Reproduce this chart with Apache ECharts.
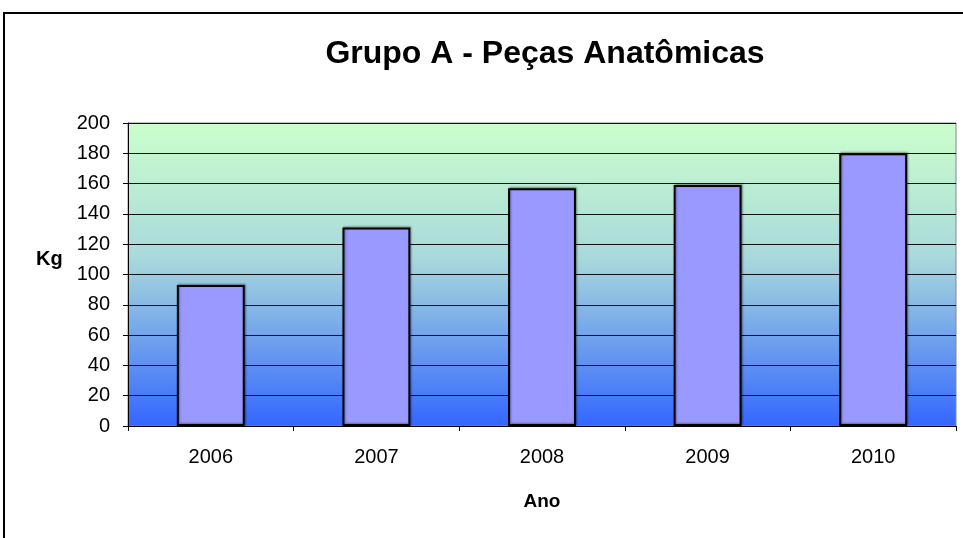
<!DOCTYPE html>
<html>
<head>
<meta charset="utf-8">
<script src="https://cdn.jsdelivr.net/npm/echarts@6/dist/echarts.min.js"></script>
<style>
  html, body { margin: 0; padding: 0; background: #fff; }
  #chart { width: 963px; height: 538px; }
</style>
</head>
<body>
<div id="chart"></div>
<script>
const years = ["2006", "2007", "2008", "2009", "2010"];
const kgValues = [93, 131, 157, 159, 180];
const yTicks = { min: 0, max: 200, interval: 20 };

const chart = echarts.init(document.getElementById("chart"));

const option = {
  animation: false,
  backgroundColor: "#fff",
  title: {
    text: "Grupo A - Peças Anatômicas",
    left: 540,
    top: 33,
    textAlign: "center",
    textStyle: {
      fontFamily: "Liberation Sans, Arial, sans-serif",
      fontSize: 32,
      fontWeight: "bold",
      color: "#000"
    }
  },
  graphic: [
    {
      type: "rect",
      shape: { x: 4, y: 13, width: 1000, height: 600 },
      style: { fill: "none", stroke: "#000", lineWidth: 2 },
      silent: true
    },
    {
      type: "text",
      left: 36,
      top: 249,
      style: {
        text: "Kg",
        font: "bold 20px Liberation Sans, Arial, sans-serif",
        fill: "#000"
      }
    }
  ],
  grid: {
    left: 128,
    top: 123,
    right: 7,
    bottom: 112,
    show: true,
    borderColor: "#888",
    borderWidth: 1,
    backgroundColor: new echarts.graphic.LinearGradient(0, 0, 0, 1, [
      { offset: 0, color: "#ccffcc" },
      { offset: 0.45, color: "#a8d8dc" },
      { offset: 1, color: "#3366ff" }
    ])
  },
  xAxis: {
    type: "category",
    data: years,
    name: "Ano",
    nameLocation: "middle",
    nameGap: 66,
    nameTextStyle: {
      fontFamily: "Liberation Sans, Arial, sans-serif",
      fontSize: 19,
      fontWeight: "bold",
      color: "#000"
    },
    axisLine: { lineStyle: { color: "#000", width: 1 } },
    axisTick: { show: true, length: 5, lineStyle: { color: "#000" } },
    axisLabel: {
      margin: 21,
      fontFamily: "Liberation Sans, Arial, sans-serif",
      fontSize: 20,
      color: "#000"
    }
  },
  yAxis: {
    type: "value",
    min: yTicks.min,
    max: yTicks.max,
    interval: yTicks.interval,
    axisLine: { show: true, lineStyle: { color: "#000", width: 1 } },
    axisTick: { show: true, length: 5, lineStyle: { color: "#000" } },
    axisLabel: {
      margin: 18,
      fontFamily: "Liberation Sans, Arial, sans-serif",
      fontSize: 20,
      color: "#000"
    },
    splitLine: { show: true, lineStyle: { color: "#111", width: 1 } }
  },
  series: [
    {
      type: "bar",
      data: kgValues,
      barWidth: "41%",
      itemStyle: {
        color: "#9999ff",
        borderColor: "#000",
        borderWidth: 2,
        shadowColor: "rgba(0,0,0,0.35)",
        shadowBlur: 2,
        shadowOffsetX: 1,
        shadowOffsetY: -1
      }
    }
  ]
};

chart.setOption(option);
</script>
</body>
</html>
